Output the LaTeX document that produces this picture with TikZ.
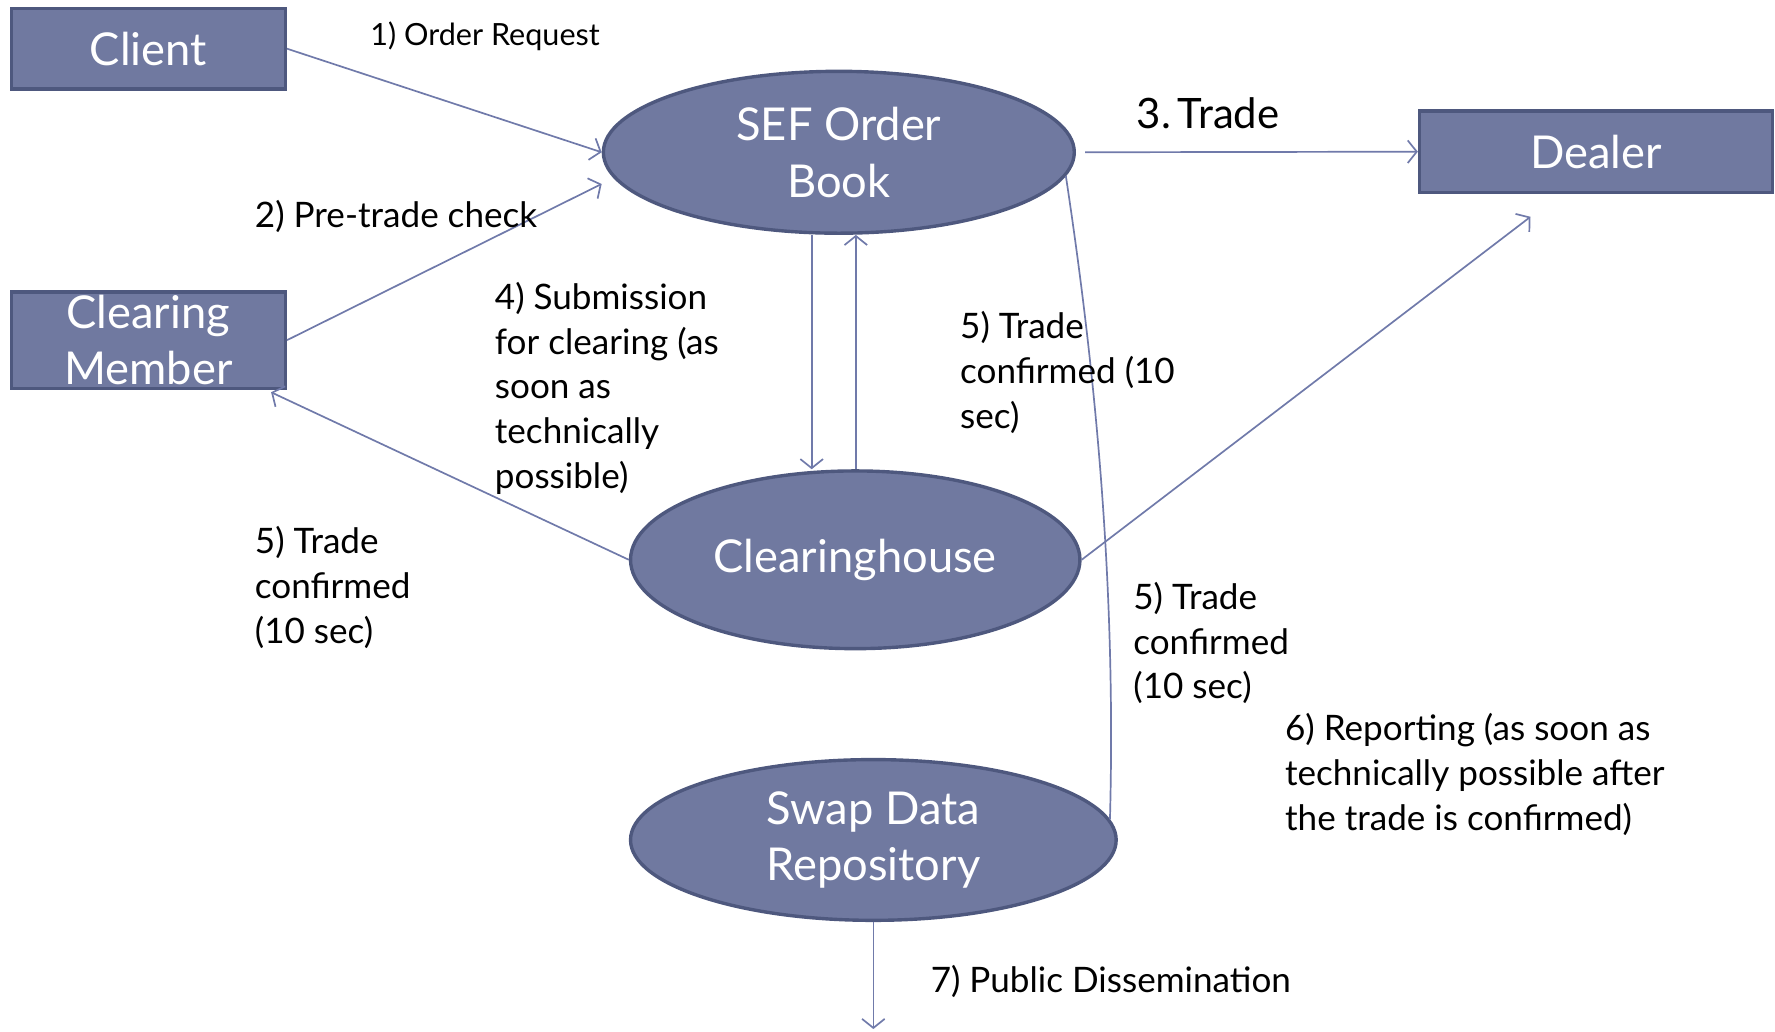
\documentclass[tikz,border=0pt]{standalone}
\usepackage{fontspec}
\setmainfont{Lato}
\usetikzlibrary{arrows.meta,shapes.geometric}
\definecolor{boxfill}{RGB}{112,121,160}
\definecolor{boxline}{RGB}{78,88,126}
\definecolor{flow}{RGB}{112,122,170}
\begin{document}
\begin{tikzpicture}[x=1pt,y=-1pt,
  party/.style={rectangle,draw=boxline,fill=boxfill,line width=3pt,text=white,
    inner sep=0pt,align=center,font=\fontsize{40}{49}\selectfont},
  venue/.style={ellipse,draw=boxline,fill=boxfill,line width=3pt,text=white,
    inner sep=0pt,align=center,font=\fontsize{40}{50}\selectfont},
  arr/.style={draw=flow,line width=1.5pt,-{Straight Barb[length=8pt,width=20pt,line width=1.5pt]}},
  link/.style={draw=flow,line width=1.5pt},
  lbl/.style={anchor=west,inner sep=0pt,align=left,text=black,font=\fontsize{31}{39.5}\selectfont},
]
\useasboundingbox (0,0) rectangle (1568,911);

% parties
\node[party,minimum width=242pt,minimum height=71pt] (client) at (131,43) {Client};
\node[party,minimum width=242pt,minimum height=85pt] (cm) at (131,300.5) {Clearing\\Member};
\node[party,minimum width=312pt,minimum height=72pt] (dealer) at (1410,134) {Dealer};

% venues
\node[venue,minimum width=416pt,minimum height=143pt] (sef) at (741,134.5) {SEF Order\\Book};
\node[venue,minimum width=397pt,minimum height=157pt] (ch) at (755.5,494.5) {Clearinghouse};
\node[venue,minimum width=429pt,minimum height=142pt] (sdr) at (771.5,742) {Swap Data\\Repository};
\coordinate (pub) at (771.5,909);

% flows
\draw[arr] (client.east) -- (sef.west);
\draw[arr] (cm.east) -- ([yshift=-28pt]sef.west);
\draw[arr] ([xshift=8pt]sef.east) -- (dealer.west);
\draw[arr] ([xshift=-24pt]sef.south) -- ([xshift=-38.5pt]ch.north);
\draw[arr] ([xshift=0.5pt]ch.north) -- ([xshift=15pt]sef.south);
\draw[arr] (ch.west) -- ([xshift=-14pt,yshift=-2pt]cm.south east);
\draw[arr] (ch.east) -- ([xshift=-58pt,yshift=-20pt]dealer.south);
\draw[link] (sef.-6) .. controls (968,330) and (986,520) .. (sdr.5);
\draw[arr] (sdr.south) -- (pub);

% labels
\node[lbl,font=\fontsize{27}{30}\selectfont] (l1) at (327,32) {1) Order Request};
\node[lbl] (l2) at (225,191) {2) Pre-trade check};
\node[lbl,font=\fontsize{37}{40}\selectfont] (l3) at (1004,100) {3.\,Trade};
\node[lbl] (l4) at (437,343) {4) Submission\\for clearing (as\\soon as\\technically\\possible)};
\node[lbl] (l5a) at (225,519) {5) Trade\\confirmed\\(10 sec)};
\node[lbl] (l5b) at (848,329) {5) Trade\\confirmed (10\\sec)};
\node[lbl] (l5c) at (1001,568) {5) Trade\\confirmed\\(10 sec)};
\node[lbl] (l6) at (1135,684) {6) Reporting (as soon as\\technically possible after\\the trade is confirmed)};
\node[lbl] (l7) at (822,867) {7) Public Dissemination};
\end{tikzpicture}
\end{document}
